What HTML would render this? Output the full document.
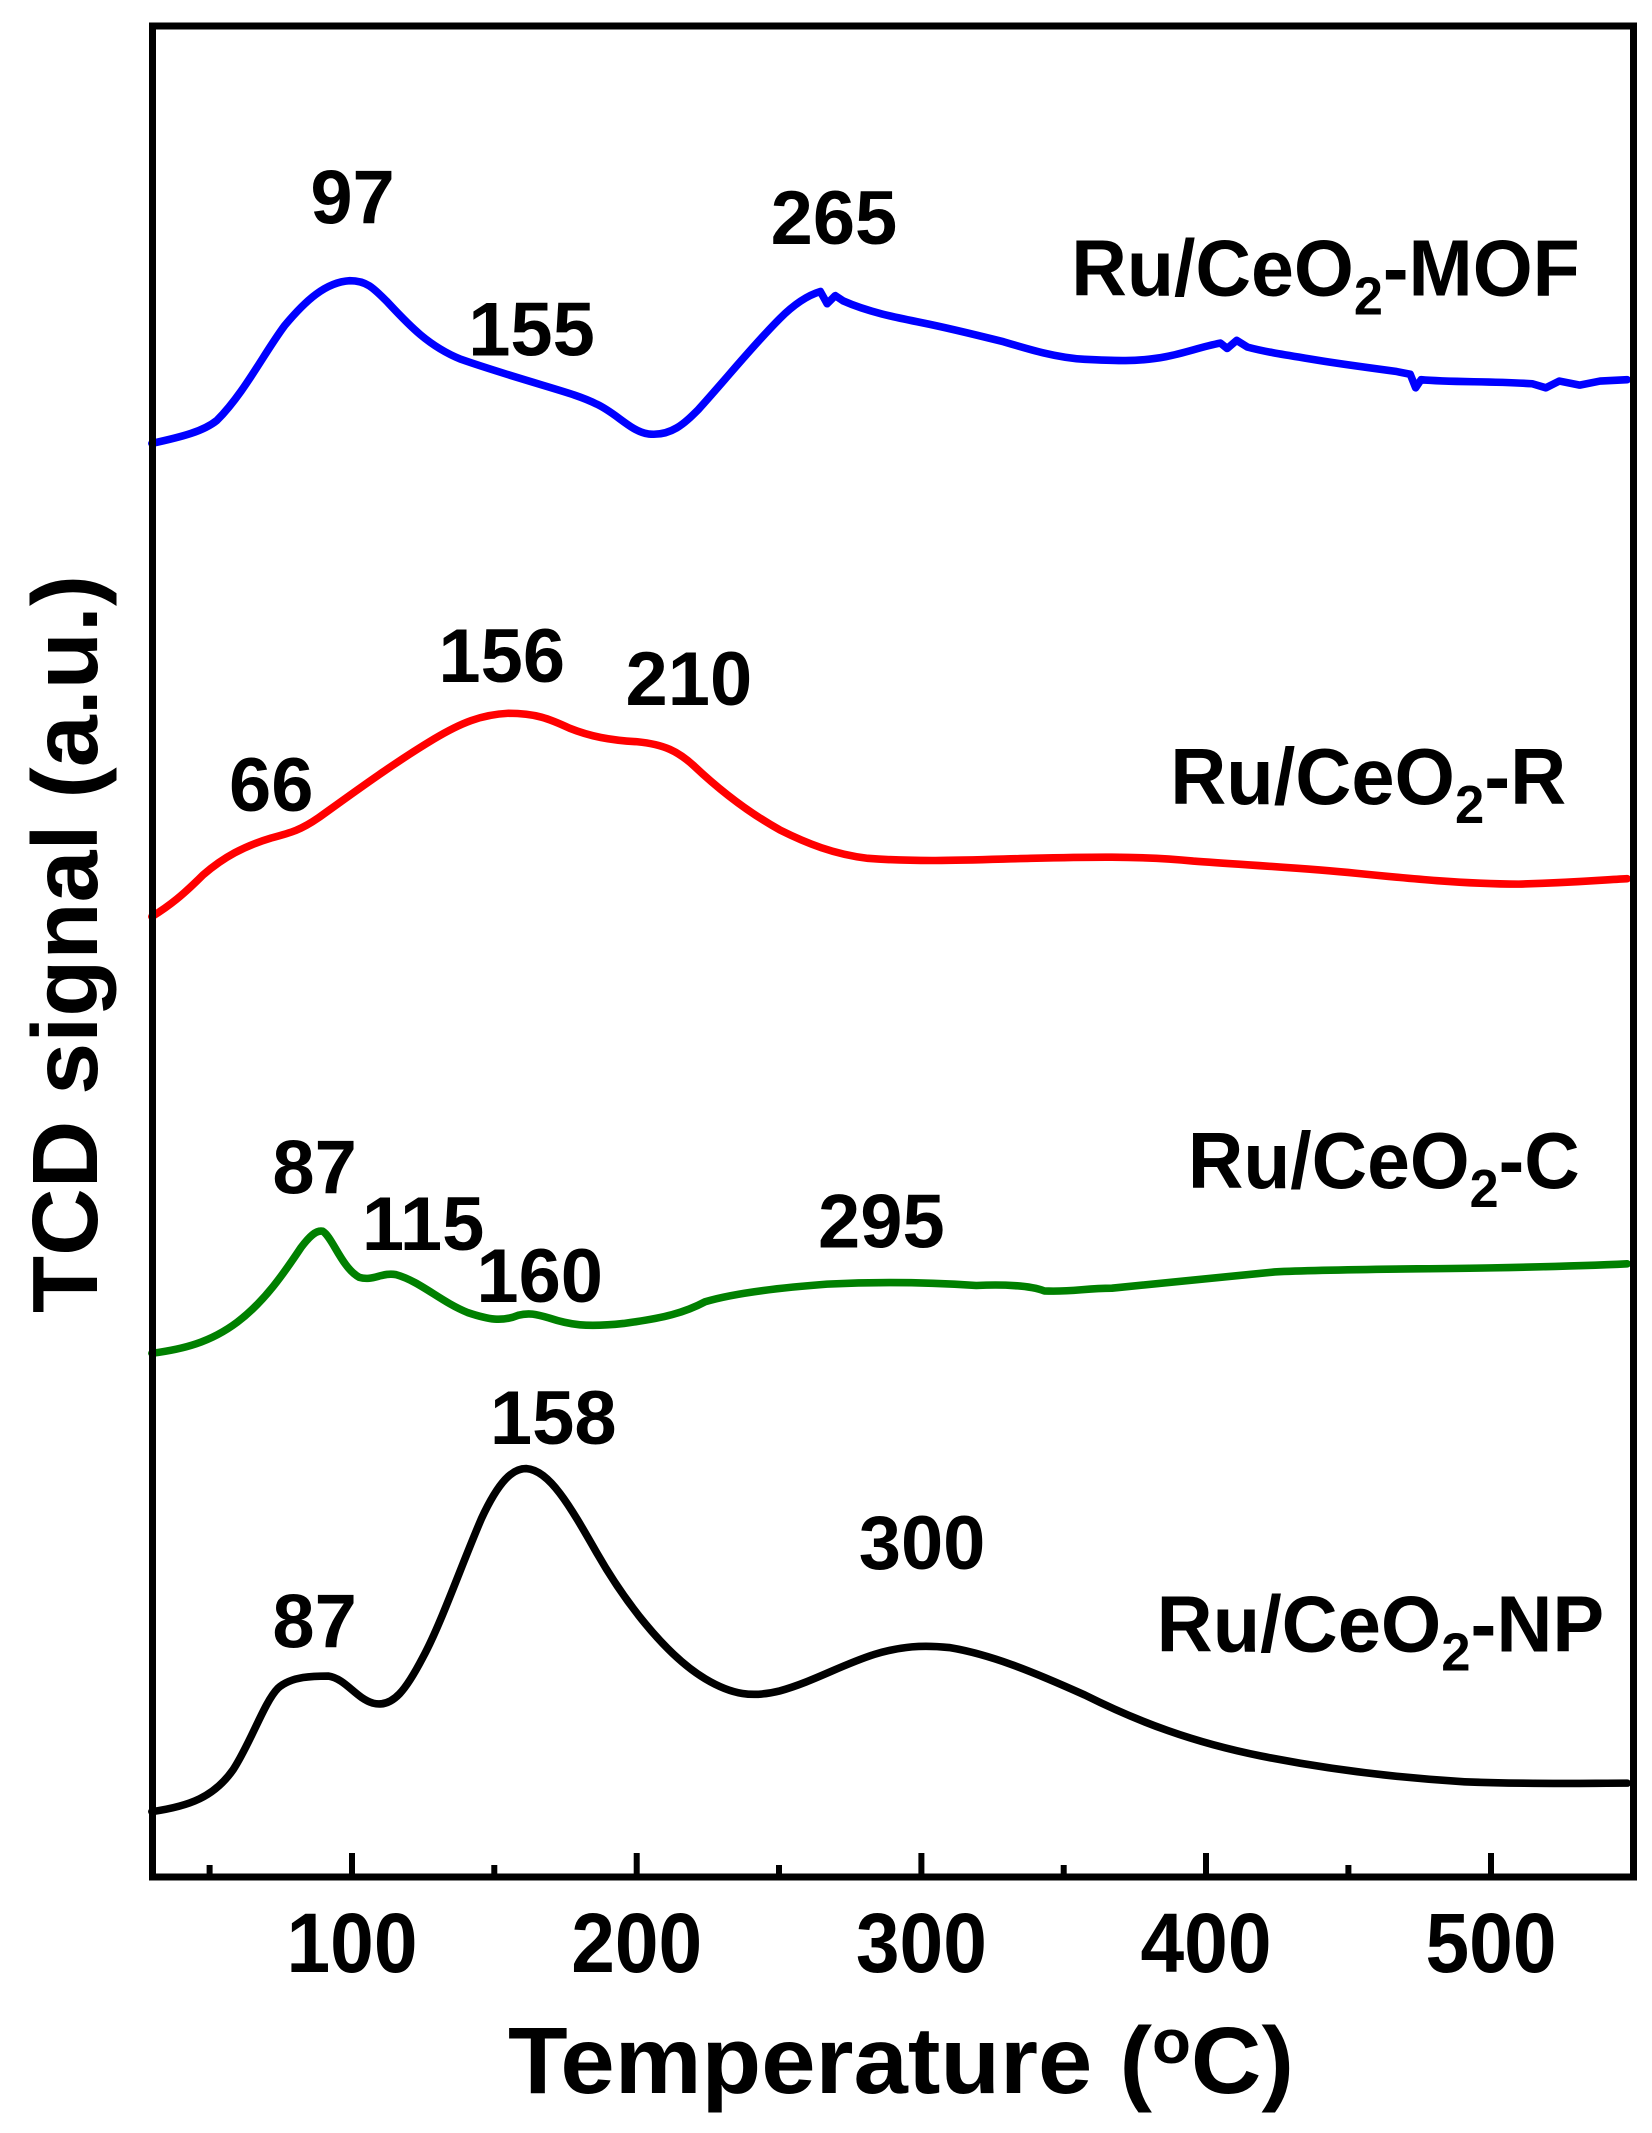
<!DOCTYPE html>
<html><head><meta charset="utf-8"><style>
html,body{margin:0;padding:0;background:#fff;}
svg{display:block;}
text{font-family:"Liberation Sans",Arial,sans-serif;font-weight:bold;fill:#000;}
</style></head><body>
<svg width="1652" height="2133" viewBox="0 0 1652 2133" xmlns="http://www.w3.org/2000/svg">
<g transform="scale(1.356)" fill="none" stroke-linejoin="round" stroke-linecap="round" stroke-width="5.6">
<path stroke="#0000ff" d="M112,327 C135,322 150,318 160,310 C180,290 195,260 210,240 C225,222 240,208 258,207 C270,207 275,212 285,222 C300,238 315,255 340,265 C360,272 380,278 400,284 C420,290 430,293 440,298 C455,305 465,318 478,320 C495,322 505,312 515,302 C535,280 555,255 575,235 C585,225 595,218 605,215 L610,224 L616,218 L622,222 C640,230 660,234 680,238 C700,242 720,247 740,252 C760,258 780,264 800,265 C820,266 840,267 860,263 C875,260 885,256 900,253 L905,257 L912,251 L920,256 C935,260 950,262 980,267 C1000,270 1015,272 1030,274 L1040,276 L1044,286 L1048,280 C1070,282 1100,281 1130,283 L1140,286 L1150,281 L1165,284 L1180,281 L1200,280"/>
<path stroke="#ff0000" d="M112,676 C125,668 135,660 150,645 C165,632 180,624 200,618 C215,614 222,612 235,603 C260,585 290,563 320,545 C340,533 355,527 375,526 C395,526 405,530 420,537 C435,543 450,546 470,547 C490,549 500,554 512,565 C530,582 550,598 575,612 C595,622 615,630 640,633 C680,636 720,634 760,633 C800,632 840,631 880,635 C920,638 960,640 1000,644 C1040,648 1080,652 1120,652 C1160,651 1180,649 1200,648"/>
<path stroke="#008000" d="M112,998 C135,995 155,990 175,975 C195,960 210,938 222,920 C228,912 233,907 238,908 C245,912 252,935 265,942 C275,945 282,938 292,940 C310,945 325,960 345,968 C360,973 370,975 382,970 C390,968 395,969 405,972 C420,977 432,979 460,976 C490,972 505,968 520,960 C540,954 570,950 610,947 C650,945 690,946 720,948 C740,947 760,948 770,952 C790,953 800,950 820,950 C860,946 900,942 940,938 C980,936 1040,936 1100,935 C1150,934 1180,933 1200,932"/>
<path stroke="#000000" d="M112,1336 C140,1332 158,1325 172,1305 C185,1285 195,1255 205,1245 C215,1236 232,1236 242,1236 C255,1238 262,1252 275,1256 C290,1260 300,1245 312,1222 C325,1198 340,1155 355,1120 C368,1092 378,1083 388,1083 C405,1084 420,1110 440,1145 C460,1180 490,1220 520,1238 C540,1250 555,1252 575,1247 C600,1240 620,1228 645,1220 C665,1214 680,1213 700,1215 C730,1220 760,1232 800,1250 C840,1270 880,1285 930,1295 C980,1305 1030,1311 1080,1314 C1130,1316 1170,1315 1200,1315"/>
</g>
<rect x="152.5" y="26" width="1481" height="1851" fill="none" stroke="#000" stroke-width="7"/>
<g stroke="#000" stroke-width="6">
<line x1="352" y1="1877" x2="352" y2="1853"/>
<line x1="636.7" y1="1877" x2="636.7" y2="1853"/>
<line x1="921.4" y1="1877" x2="921.4" y2="1853"/>
<line x1="1206" y1="1877" x2="1206" y2="1853"/>
<line x1="1491" y1="1877" x2="1491" y2="1853"/>
<line x1="209.6" y1="1877" x2="209.6" y2="1865"/>
<line x1="494.3" y1="1877" x2="494.3" y2="1865"/>
<line x1="779" y1="1877" x2="779" y2="1865"/>
<line x1="1063.7" y1="1877" x2="1063.7" y2="1865"/>
<line x1="1348.4" y1="1877" x2="1348.4" y2="1865"/>
</g>
<g font-size="84" text-anchor="middle">
<text x="352" y="1972" textLength="131" lengthAdjust="spacingAndGlyphs">100</text>
<text x="636.7" y="1972" textLength="131" lengthAdjust="spacingAndGlyphs">200</text>
<text x="921.4" y="1972" textLength="131" lengthAdjust="spacingAndGlyphs">300</text>
<text x="1206" y="1972" textLength="131" lengthAdjust="spacingAndGlyphs">400</text>
<text x="1491" y="1972" textLength="131" lengthAdjust="spacingAndGlyphs">500</text>
</g>
<text x="508" y="2093" font-size="95" textLength="786" lengthAdjust="spacingAndGlyphs">Temperature (<tspan font-size="62" dy="-30">o</tspan><tspan dy="30">C)</tspan></text>
<text transform="translate(97,1313) rotate(-90)" font-size="93" textLength="738" lengthAdjust="spacingAndGlyphs">TCD signal (a.u.)</text>
<g transform="scale(1.356)">
<g font-size="56" text-anchor="middle">
<text x="260" y="165">97</text>
<text x="615" y="180">265</text>
<text x="392" y="262">155</text>
<text x="370" y="503">156</text>
<text x="508" y="520">210</text>
<text x="200" y="598">66</text>
<text x="232" y="880">87</text>
<text x="312" y="922">115</text>
<text x="398" y="960">160</text>
<text x="650" y="920">295</text>
<text x="408" y="1065">158</text>
<text x="680" y="1157">300</text>
<text x="232" y="1215">87</text>
</g>
<g font-size="59">
<text x="790" y="218" textLength="375" lengthAdjust="spacingAndGlyphs">Ru/CeO<tspan font-size="40" dy="14">2</tspan><tspan dy="-14">-MOF</tspan></text>
<text x="863" y="593" textLength="292" lengthAdjust="spacingAndGlyphs">Ru/CeO<tspan font-size="40" dy="14">2</tspan><tspan dy="-14">-R</tspan></text>
<text x="876" y="876" textLength="289" lengthAdjust="spacingAndGlyphs">Ru/CeO<tspan font-size="40" dy="14">2</tspan><tspan dy="-14">-C</tspan></text>
<text x="853" y="1218" textLength="330" lengthAdjust="spacingAndGlyphs">Ru/CeO<tspan font-size="40" dy="14">2</tspan><tspan dy="-14">-NP</tspan></text>
</g>
</g>
</svg>
</body></html>
